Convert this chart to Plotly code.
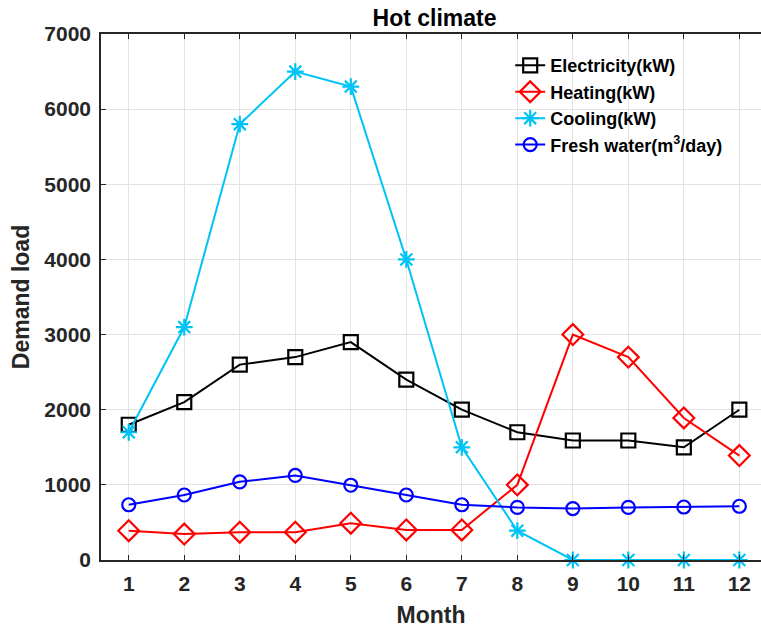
import plotly.graph_objects as go

months = list(range(1, 13))
month_labels = [str(m) for m in months]
electricity = [1800, 2100, 2600, 2700, 2900, 2400, 2000, 1700, 1590, 1590, 1500, 2000]
heating = [390, 345, 370, 370, 490, 400, 400, 1000, 3000, 2700, 1890, 1390]
cooling = [1700, 3100, 5800, 6500, 6300, 4000, 1500, 390, 0, 0, 0, 0]
fresh_water = [735, 865, 1040, 1125, 995, 865, 735, 700, 685, 700, 705, 715]
y_ticks = [0, 1000, 2000, 3000, 4000, 5000, 6000, 7000]

series = [
    ("<b>Electricity(kW)</b>", electricity, "#000000", "square-open", 14),
    ("<b>Heating(kW)</b>", heating, "#ff0000", "diamond-open", 16),
    ("<b>Cooling(kW)</b>", cooling, "#00c3f5", "asterisk-open", 14),
    ("<b>Fresh water(m<sup>3</sup>/day)</b>", fresh_water, "#0000ff", "circle-open", 13),
]

FONT = "Liberation Sans, Arial, sans-serif"
fig = go.Figure()
for i, (name, vals, color, sym, size) in enumerate(series):
    fig.add_trace(go.Scatter(
        x=months, y=vals, name=name, mode="lines+markers", cliponaxis=False,
        line=dict(color=color, width=2),
        marker=dict(symbol=sym, size=size, color=color, line=dict(color=color, width=2.2)),
    ))

axis_color = "#262626"
fig.update_layout(
    width=761, height=630,
    margin=dict(l=101, r=0, t=34, b=70),
    paper_bgcolor="white", plot_bgcolor="white",
    font=dict(family=FONT, color=axis_color),
    title=dict(text="<b>Hot climate</b>", x=0.571, xanchor="center", y=0.971, yanchor="middle",
               font=dict(size=23, color="#000000", family=FONT)),
    legend=dict(x=0.62, y=0.975, xanchor="left", yanchor="top",
                font=dict(size=18, color="#000000", family=FONT),
                bgcolor="rgba(255,255,255,0)", tracegroupgap=0),
    showlegend=True,
)
fig.update_xaxes(
    range=[0.5, 12.39], tickvals=months, ticktext=month_labels,
    showgrid=True, gridcolor="#e3e3e3", gridwidth=1,
    showline=True, linecolor=axis_color, linewidth=1.5, mirror="ticks",
    ticks="inside", ticklen=5, tickcolor=axis_color, ticklabelstandoff=4,
    tickfont=dict(size=21, color=axis_color, family=FONT, weight="bold"),
    title=dict(text="<b>Month</b>", font=dict(size=23, color=axis_color, family=FONT), standoff=13),
    zeroline=False,
)
fig.update_yaxes(
    range=[0, 7000], tickvals=y_ticks,
    showgrid=True, gridcolor="#e3e3e3", gridwidth=1,
    showline=True, linecolor=axis_color, linewidth=1.5,
    ticks="inside", ticklen=5, tickcolor=axis_color, ticklabelstandoff=4,
    tickfont=dict(size=21, color=axis_color, family=FONT, weight="bold"),
    title=dict(text="<b>Demand load</b>", font=dict(size=23, color=axis_color, family=FONT), standoff=8),
    zeroline=False,
)
fig.write_html("out.html")
